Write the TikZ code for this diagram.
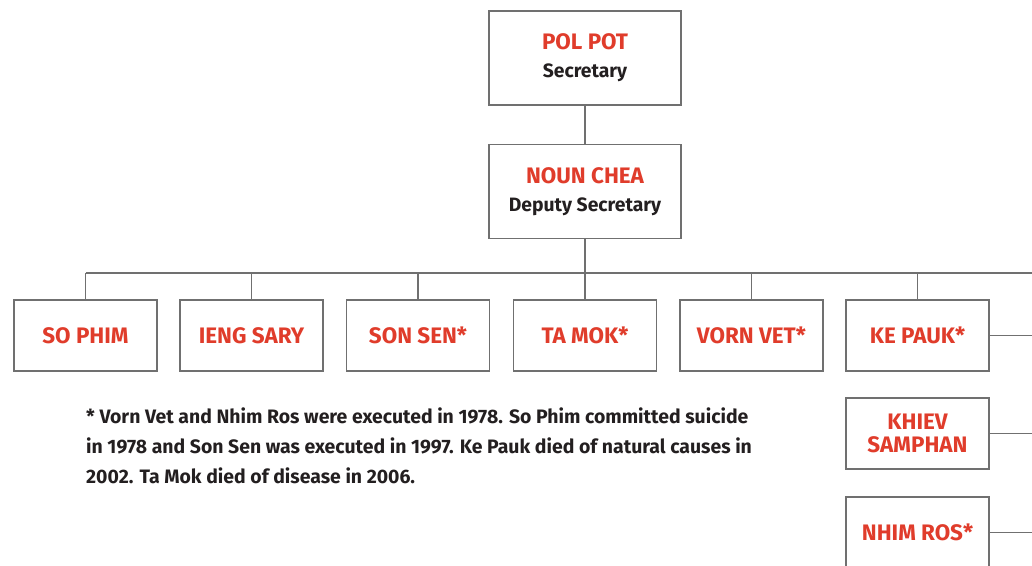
\documentclass[tikz,border=0pt]{standalone}
\usepackage{fontspec}
\setmainfont{Fira Sans}
\definecolor{kred}{HTML}{E03C2B}
\definecolor{ktxt}{HTML}{231F20}
\definecolor{kline}{HTML}{707070}
\begin{document}
\begin{tikzpicture}[x=1bp,y=-1bp,
  box/.style={draw=kline,line width=1.3bp,fill=white,minimum width=143bp,minimum height=71bp,inner sep=0pt,align=center,font=\bfseries\fontsize{22.5}{25}\selectfont,text=kred},
  topbox/.style={box,minimum width=192bp,minimum height=94bp},
  conn/.style={draw=kline,line width=1.3bp}]
\useasboundingbox (0,0) rectangle (1032,566);
\node[topbox] (pp) at (585,58) {POL POT\\[3bp]{\fontsize{19.4}{20}\selectfont\color{ktxt}Secretary}};
\node[topbox] (nc) at (585,191.5) {NOUN CHEA\\[3bp]{\fontsize{19.4}{20}\selectfont\color{ktxt}Deputy Secretary}};
\coordinate (bus) at (585,273);
\coordinate (busL) at (85.5,273);
\coordinate (busR) at (1032,273);
\node[box] (sp) at (85.5,335.5) {SO PHIM};
\node[box] (is) at (251.5,335.5) {IENG SARY};
\node[box] (ss) at (418,335.5) {SON SEN*};
\node[box] (tm) at (585,335.5) {TA MOK*};
\node[box] (vv) at (751.5,335.5) {VORN VET*};
\node[box] (kp) at (917.5,335.5) {KE PAUK*};
\node[box] (ks) at (917.5,433.5) {KHIEV\\[-2bp]SAMPHAN};
\node[box] (nr) at (917.5,532.5) {NHIM ROS*};
\coordinate (kpR) at (1032,335.5);
\coordinate (ksR) at (1032,433.5);
\coordinate (nrR) at (1032,532.5);
\draw[conn] (pp.south) -- (nc.north);
\draw[conn] (nc.south) -- (bus);
\draw[conn] (busL) -- (busR);
\foreach \n in {sp,is,ss,tm,vv,kp} \draw[conn] (\n.north) -- (\n.north |- bus);
\draw[conn] (kp.east) -- (kpR);
\draw[conn] (ks.east) -- (ksR);
\draw[conn] (nr.east) -- (nrR);
\node[anchor=base west,align=left,inner sep=0pt,text=ktxt,font=\bfseries\fontsize{19.5}{30}\selectfont] (fn) at (86,483)
{* Vorn Vet and Nhim Ros were executed in 1978. So Phim committed suicide\\in 1978 and Son Sen was executed in 1997. Ke Pauk died of natural causes in\\2002. Ta Mok died of disease in 2006.};
\end{tikzpicture}
\end{document}
